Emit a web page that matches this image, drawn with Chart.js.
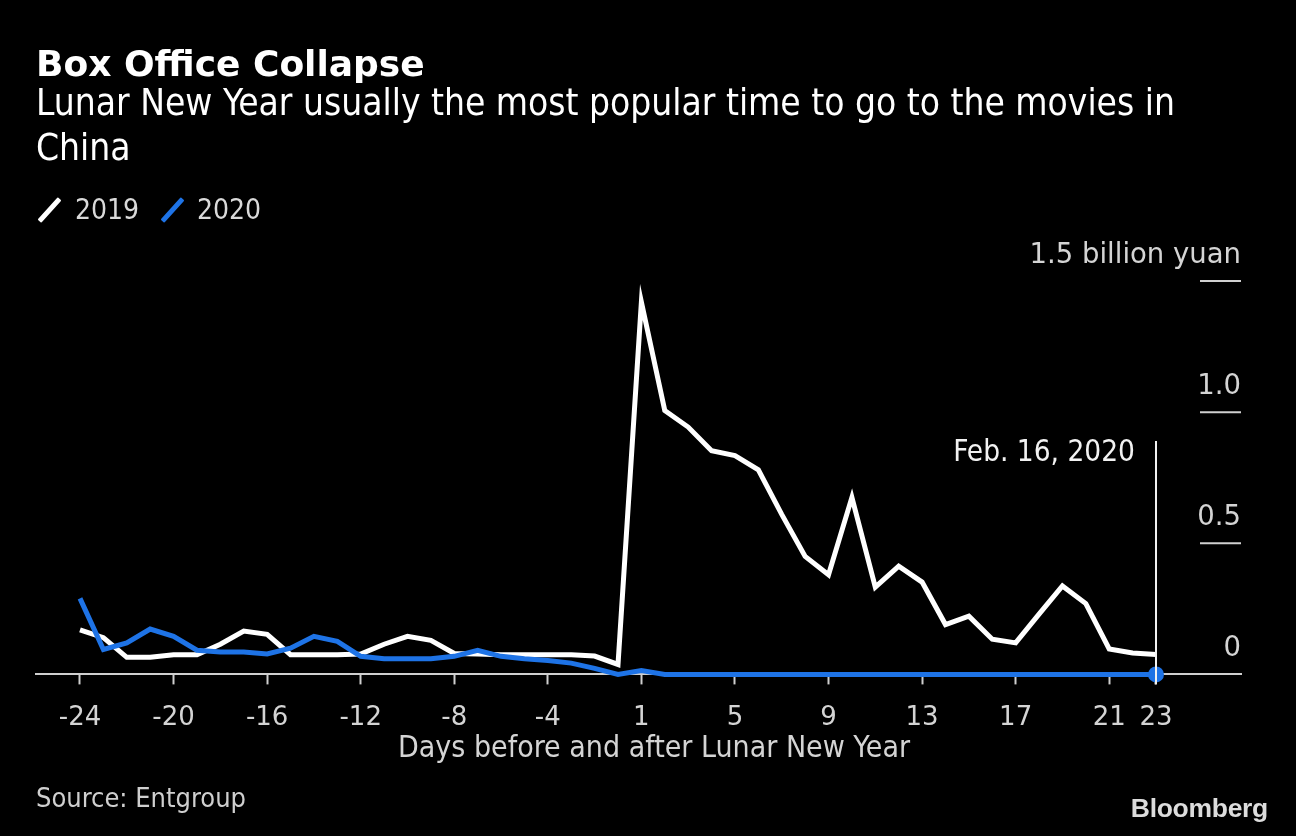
<!DOCTYPE html>
<html>
<head>
<meta charset="utf-8">
<script src="https://cdn.jsdelivr.net/npm/chart.js@4/dist/chart.umd.min.js"></script>
<style>
  html, body { margin: 0; padding: 0; background: #000; }
  body { width: 1296px; height: 836px; position: relative; overflow: hidden;
         font-family: 'DejaVu Sans Condensed', 'DejaVu Sans', sans-serif; font-stretch: condensed; }
  .txt { position: absolute; white-space: nowrap; }
  #title { left: 36px; top: 45.5px; font-family: 'DejaVu Sans', sans-serif; font-stretch: normal;
           font-size: 36px; line-height: 36px; font-weight: bold; color: #fff; }
  #subtitle { left: 36px; top: 79.9px; font-size: 36.8px; line-height: 45px; color: #fff; }
  .leg { top: 196.3px; font-size: 28px; line-height: 28px; color: #d9d9d9; }
  .sw { position: absolute; top: 195px; width: 5px; height: 30px; transform: rotate(42deg); border-radius: 1px; }
  #xtitle { left: 398px; top: 731.6px; font-size: 30px; line-height: 30px; color: #d4d4d4; }
  #source { left: 36px; top: 784px; font-size: 27px; line-height: 27px; color: #cfcfcf; }
  #logo { right: 28px; top: 794.6px; font-family: 'Liberation Sans', Arial, sans-serif; font-stretch: normal;
          font-weight: bold; font-size: 26.5px; line-height: 26.5px; color: #dcdcdc; letter-spacing: -0.3px; }
  canvas { position: absolute; left: 0; top: 0; }
</style>
</head>
<body>
<canvas id="chart" width="1296" height="836"></canvas>
<div class="txt" id="title">Box Office Collapse</div>
<div class="txt" id="subtitle">Lunar New Year usually the most popular time to go to the movies in<br>China</div>
<div class="sw" style="left:47px;background:#fff"></div>
<div class="txt leg" style="left:75px">2019</div>
<div class="sw" style="left:170px;background:#1e73e6"></div>
<div class="txt leg" style="left:197px">2020</div>
<div class="txt" id="xtitle">Days before and after Lunar New Year</div>
<div class="txt" id="source">Source: Entgroup</div>
<div class="txt" id="logo">Bloomberg</div>
<script>
const FONT = "'DejaVu Sans', sans-serif";
const FONT_NARROW = "'DejaVu Sans Condensed', 'DejaVu Sans', sans-serif";

// days before / after Lunar New Year (there is no day 0)
const days = [-24, -23, -22, -21, -20, -19, -18, -17, -16, -15, -14, -13, -12, -11, -10, -9, -8, -7, -6, -5, -4, -3, -2, -1,
  1, 2, 3, 4, 5, 6, 7, 8, 9, 10, 11, 12, 13, 14, 15, 16, 17, 18, 19, 20, 21, 22, 23];

// daily box office, billion yuan
const sales2019 = [0.17, 0.14, 0.065, 0.065, 0.075, 0.075, 0.115, 0.165, 0.153, 0.075, 0.075, 0.075,
  0.078, 0.115, 0.145, 0.13, 0.08, 0.078, 0.075, 0.075, 0.075, 0.075, 0.07, 0.038,
  1.42, 1.006, 0.943, 0.853, 0.834, 0.78, 0.61, 0.45, 0.38, 0.675, 0.333,
  0.413, 0.352, 0.19, 0.222, 0.134, 0.12, 0.23, 0.337, 0.27, 0.097, 0.082, 0.076];
const sales2020 = [0.29, 0.095, 0.12, 0.173, 0.145, 0.092, 0.085, 0.085, 0.078, 0.1, 0.145, 0.126,
  0.069, 0.06, 0.06, 0.06, 0.069, 0.092, 0.069, 0.06, 0.053, 0.043, 0.023, 0.0,
  0.015, 0, 0, 0, 0, 0, 0, 0, 0, 0, 0, 0, 0, 0, 0, 0, 0, 0, 0, 0, 0, 0, 0];

const xTickDays = [-24, -20, -16, -12, -8, -4, 1, 5, 9, 13, 17, 21, 23];
const yTicks = [0, 0.5, 1.0, 1.5];
const yTickLabels = ["0", "0.5", "1.0", "1.5 billion yuan"];

const annotationDay = 23;
const annotationLabel = "Feb. 16, 2020";
const annotationTop = 0.89;

const lastIdx = days.length - 1;

const rightAxis = {
  id: "rightAxis",
  afterDraw(chart) {
    const ctx = chart.ctx;
    const y = chart.scales.y;
    const x = chart.scales.x;
    const right = chart.chartArea.right;
    ctx.save();
    ctx.strokeStyle = "#d0d0d0";
    ctx.lineWidth = 2;
    ctx.fillStyle = "#d4d4d4";
    ctx.font = "27.5px " + FONT;
    ctx.textAlign = "right";
    ctx.textBaseline = "alphabetic";
    yTicks.forEach((v, i) => {
      const py = y.getPixelForValue(v);
      if (v > 0) {
        ctx.beginPath();
        ctx.moveTo(right - 41, py);
        ctx.lineTo(right, py);
        ctx.stroke();
      }
      ctx.fillText(yTickLabels[i], right, py - 18);
    });

    // marker line on the last day
    const ax = x.getPixelForValue(days.indexOf(annotationDay));
    const top = y.getPixelForValue(annotationTop);
    ctx.strokeStyle = "#f2f2f2";
    ctx.beginPath();
    ctx.moveTo(ax, top);
    ctx.lineTo(ax, chart.chartArea.bottom + 10);
    ctx.stroke();
    ctx.fillStyle = "#f2f2f2";
    ctx.font = "29.5px " + FONT_NARROW;
    ctx.fillText(annotationLabel, ax - 21, top + 20);
    ctx.restore();
  },
};

new Chart(document.getElementById("chart"), {
  type: "line",
  data: {
    datasets: [
      {
        label: "2020",
        data: sales2020.map((v, i) => ({ x: i, y: v })),
        borderColor: "#1e73e6",
        backgroundColor: "#1e73e6",
        borderWidth: 5,
        pointRadius: (c) => (c.dataIndex === lastIdx ? 8 : 0),
        pointBorderWidth: 0,
        tension: 0,
        clip: false,
        order: 0,
      },
      {
        label: "2019",
        data: sales2019.map((v, i) => ({ x: i, y: v })),
        borderColor: "#ffffff",
        borderWidth: 5,
        pointRadius: 0,
        tension: 0,
        clip: false,
        order: 1,
      },
    ],
  },
  plugins: [rightAxis],
  options: {
    responsive: false,
    animation: false,
    devicePixelRatio: 1,
    layout: { padding: { left: 36, right: 55, top: 281, bottom: 84.4 } },
    plugins: {
      legend: { display: false },
      tooltip: { enabled: false },
    },
    scales: {
      x: {
        type: "linear",
        min: -1.881,
        max: 49.634,
        afterBuildTicks: (axis) => {
          axis.ticks = xTickDays.map((d) => ({ value: days.indexOf(d) }));
        },
        grid: {
          display: true,
          drawOnChartArea: false,
          drawTicks: true,
          tickLength: 10,
          tickWidth: 2,
          tickColor: "#cfcfcf",
        },
        border: { display: true, color: "#cfcfcf", width: 2 },
        ticks: {
          autoSkip: false,
          maxRotation: 0,
          padding: 18,
          color: "#d4d4d4",
          font: { family: FONT, size: 26 },
          callback: (value) => String(days[value]),
        },
      },
      y: {
        display: false,
        min: 0,
        max: 1.5,
      },
    },
  },
});
</script>
</body>
</html>
